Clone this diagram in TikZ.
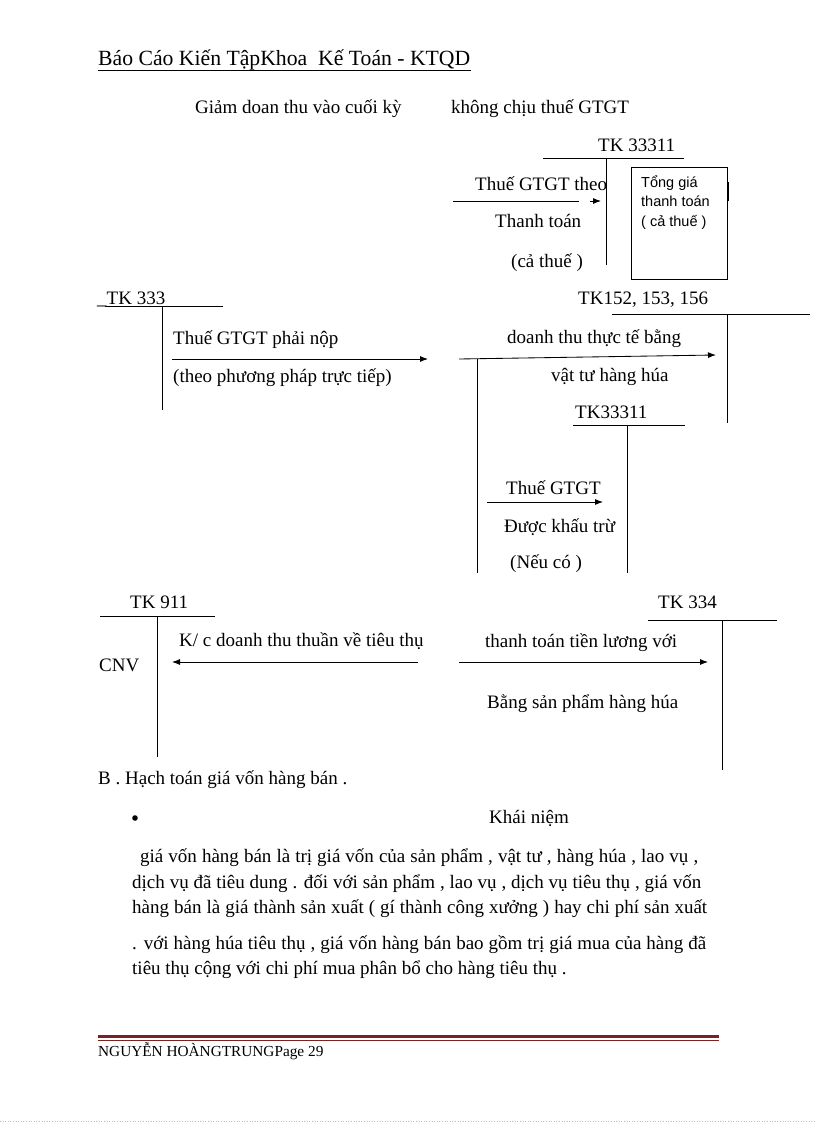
\documentclass[tikz,border=0pt]{standalone}
\usepackage{fontspec}
\setmainfont{Liberation Serif}
\newfontfamily\arialf{Liberation Sans}
\usetikzlibrary{arrows.meta}
\definecolor{maroon}{HTML}{7A2222}
\begin{document}
\begin{tikzpicture}[x=1pt,y=-1pt,
  txt/.style={anchor=base west, inner sep=0pt, font=\fontsize{19}{22}\selectfont},
  small/.style={anchor=base west, inner sep=0pt, font=\arialf\fontsize{14.5}{19}\selectfont},
  ln/.style={line width=0.85pt},
  arr/.style={ln, -{Latex[length=8pt,width=6pt]}}]
\useasboundingbox (0,0) rectangle (816,1123);
\fill[white] (0,0) rectangle (816,1123);

% header
\node[anchor=base west, inner sep=0pt, font=\fontsize{21.7}{24}\selectfont] (hdr) at (98,66) {Báo Cáo Kiến TậpKhoa\ \ Kế Toán - KTQD};
\draw[ln] ([yshift=-4.5pt]hdr.base west) -- ([yshift=-4.5pt]hdr.base east);

\node[txt] (t1) at (195,114) {Giảm doan thu vào cuối kỳ};
\node[txt] (t2) at (451,114) {không chịu thuế GTGT};

% TK 33311 (top)
\node[txt] (tka) at (598,152) {TK 33311};
\coordinate (tkaL) at (543,158); \coordinate (tkaR) at (684,158);
\coordinate (tkaT) at (606,158); \coordinate (tkaB) at (606,265);
\draw[ln] (tkaL) -- (tkaR);
\draw[ln] (tkaT) -- (tkaB);
\node[txt] (a1) at (475,191) {Thuế GTGT theo};
\node[txt] (a2) at (495,228) {Thanh toán};
\node[txt] (a3) at (511,267) {(cả thuế )};
\coordinate (arA1) at (453,201); \coordinate (arAm) at (579,201);
\coordinate (arAn) at (590,201); \coordinate (arA2) at (601,201);
\draw[ln] (arA1) -- (arAm);
\draw[arr] (arAn) -- (arA2);
\node[draw, line width=0.8pt, minimum width=96pt, minimum height=112pt, anchor=north west, inner sep=0pt] (box) at (631,167) {};
\node[small] (b1) at (641,188) {Tổng giá};
\node[small] (b2) at (641,207) {thanh toán};
\node[small] (b3) at (641,226) {( cả thuế )};
\coordinate (tk1) at (728.5,182); \coordinate (tk2) at (728.5,201);
\draw[line width=1.6pt] (tk1) -- (tk2);

% TK 333
\node[txt] (tk333) at (97,304) {\_TK 333};
\coordinate (c333L) at (105,306); \coordinate (c333R) at (223,306);
\coordinate (c333T) at (162,306); \coordinate (c333B) at (162,410);
\draw[ln] (c333L) -- (c333R);
\draw[ln] (c333T) -- (c333B);
\node[txt] (p1) at (173,344) {Thuế GTGT phải nộp};
\node[txt] (p2) at (173,382) {(theo phương pháp trực tiếp)};
\coordinate (arB1) at (172,359); \coordinate (arB2) at (428,359);
\draw[arr] (arB1) -- (arB2);

% TK 152...
\node[txt] (tk152) at (578,304) {TK152, 153, 156};
\coordinate (c152L) at (612,314); \coordinate (c152R) at (810,314);
\coordinate (c152T) at (727,314); \coordinate (c152B) at (727,423);
\draw[ln] (c152L) -- (c152R);
\draw[ln] (c152T) -- (c152B);
\node[txt] (d1) at (507,343) {doanh thu thực tế bằng};
\node[txt] (d2) at (551,381) {vật tư hàng húa};
\coordinate (arC1) at (459,359); \coordinate (arC2) at (716,355);
\draw[arr] (arC1) -- (arC2);
\coordinate (vLT) at (477,359); \coordinate (vLB) at (477,573);
\draw[ln] (vLT) -- (vLB);

% TK33311 (lower)
\node[txt] (tkb) at (575,418) {TK33311};
\coordinate (tkbL) at (573,425); \coordinate (tkbR) at (685,425);
\coordinate (tkbT) at (627,425); \coordinate (tkbB) at (627,573);
\draw[ln] (tkbL) -- (tkbR);
\draw[ln] (tkbT) -- (tkbB);
\node[txt] (e1) at (506,494) {Thuế GTGT};
\node[txt] (e2) at (504,532) {Được khấu trừ};
\node[txt] (e3) at (510,568) {(Nếu có )};
\coordinate (arD1) at (487,502); \coordinate (arD2) at (603,502);
\draw[arr] (arD1) -- (arD2);

% TK 911
\node[txt] (tk911) at (130,608) {TK 911};
\coordinate (c911L) at (100,616); \coordinate (c911R) at (215,616);
\coordinate (c911T) at (157,616); \coordinate (c911B) at (157,757);
\draw[ln] (c911L) -- (c911R);
\draw[ln] (c911T) -- (c911B);
\node[txt] (cnv) at (99,671) {CNV};
\node[txt] (k1) at (179,646) {K/ c doanh thu thuần về tiêu thụ};
\coordinate (arE1) at (418,662); \coordinate (arE2) at (172,662);
\draw[arr] (arE1) -- (arE2);

% TK 334
\node[txt] (tk334) at (658,608) {TK 334};
\coordinate (c334L) at (648,620); \coordinate (c334R) at (777,620);
\coordinate (c334T) at (722,620); \coordinate (c334B) at (722,770);
\draw[ln] (c334L) -- (c334R);
\draw[ln] (c334T) -- (c334B);
\node[txt] (l1) at (485,647) {thanh toán tiền lương với};
\node[txt] (l2) at (487,708) {Bằng sản phẩm hàng húa};
\coordinate (arF1) at (459,662); \coordinate (arF2) at (708,662);
\draw[arr] (arF1) -- (arF2);

% section B
\node[txt] (secB) at (98,784) {B . Hạch toán giá vốn hàng bán .};
\fill (135,818) circle (2.8pt);
\node[txt] (kn) at (489,823) {Khái niệm};
\node[txt] (g1) at (140,862) {\makebox[558pt][s]{giá vốn hàng bán là trị giá vốn của sản phẩm , vật tư , hàng húa , lao vụ ,}};
\node[txt] (g2) at (132,888) {\makebox[569pt][s]{dịch vụ đã tiêu dung . đối với sản phẩm , lao vụ , dịch vụ tiêu thụ , giá vốn}};
\node[txt] (g3) at (132,913) {\makebox[575pt][s]{hàng bán là giá thành sản xuất ( gí thành công xưởng ) hay chi phí sản xuất}};
\node[txt] (g4) at (132,949) {\makebox[574pt][s]{. với hàng húa tiêu thụ , giá vốn hàng bán bao gồm trị giá mua của hàng đã}};
\node[txt] (g5) at (132,974) {tiêu thụ cộng với chi phí mua phân bổ cho hàng tiêu thụ .};

% footer
\coordinate (fL1) at (98,1036); \coordinate (fR1) at (719,1036);
\coordinate (fL2) at (98,1040.5); \coordinate (fR2) at (719,1040.5);
\draw[maroon, line width=3pt] (fL1) -- (fR1);
\draw[maroon, line width=1pt] (fL2) -- (fR2);
\node[anchor=base west, inner sep=0pt, font=\fontsize{15.3}{17}\selectfont] (foot) at (98,1056) {NGUYỄN HOÀNGTRUNGPage 29};
\coordinate (dL) at (0,1121); \coordinate (dR) at (816,1121);
\draw[gray!50, dotted, line width=0.6pt] (dL) -- (dR);
\end{tikzpicture}
\end{document}
